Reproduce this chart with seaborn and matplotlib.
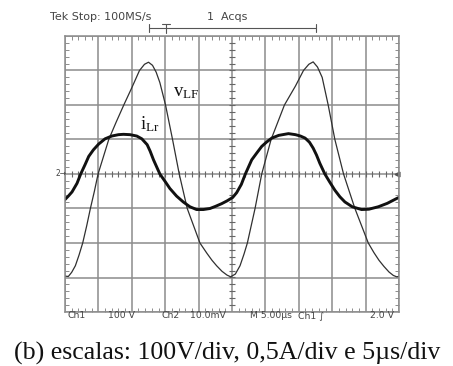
import numpy as np
import pandas as pd
import matplotlib
matplotlib.use("Agg")
import matplotlib.pyplot as plt
from matplotlib.ticker import MultipleLocator
from matplotlib.lines import Line2D
import seaborn as sns

# ---- data (screen divisions: x 0..10, y -4..4) ----
v_lf_x = [0.00, 0.10, 0.20, 0.31, 0.42, 0.53, 0.65, 0.76, 0.88, 0.99, 1.15, 1.31, 1.53, 1.76,
          2.00, 2.23, 2.38, 2.50, 2.62, 2.73, 2.84, 3.01, 3.22, 3.42, 3.66, 3.85, 4.04, 4.25,
          4.40, 4.54, 4.70, 4.85, 4.96, 5.10, 5.24, 5.36, 5.46, 5.69, 5.89, 6.17, 6.57, 6.90,
          7.14, 7.30, 7.43, 7.56, 7.70, 7.88, 8.08, 8.34, 8.68, 9.08, 9.25, 9.40, 9.55, 9.70,
          9.83, 9.93, 10.00]
v_lf_y = [-2.96, -2.97, -2.85, -2.66, -2.35, -2.00, -1.50, -1.00, -0.50, 0.00, 0.50, 1.00, 1.50, 2.00,
          2.50, 3.00, 3.18, 3.24, 3.15, 2.95, 2.65, 2.00, 1.00, 0.00, -1.00, -1.50, -2.00, -2.30,
          -2.50, -2.66, -2.82, -2.93, -2.98, -2.90, -2.66, -2.32, -2.00, -1.00, 0.00, 1.00, 2.00, 2.55,
          3.00, 3.18, 3.25, 3.10, 2.80, 2.00, 1.00, 0.00, -1.00, -2.00, -2.28, -2.50, -2.68, -2.84,
          -2.94, -2.98, -2.97]

i_lr_x = [0.00, 0.10, 0.21, 0.36, 0.47, 0.60, 0.71, 0.85, 1.01, 1.20, 1.40, 1.60, 1.75, 1.95,
          2.15, 2.30, 2.46, 2.55, 2.65, 2.84, 3.00, 3.14, 3.34, 3.54, 3.74, 3.94, 4.14, 4.34,
          4.50, 4.69, 4.85, 5.02, 5.14, 5.28, 5.40, 5.59, 5.75, 5.89, 6.04, 6.19, 6.40, 6.69,
          6.90, 7.05, 7.19, 7.32, 7.43, 7.53, 7.63, 7.78, 7.93, 8.08, 8.23, 8.38, 8.60, 8.88,
          9.10, 9.38, 9.65, 9.93, 10.00]
i_lr_y = [-0.74, -0.64, -0.52, -0.27, 0.00, 0.27, 0.51, 0.70, 0.87, 1.02, 1.10, 1.14, 1.15, 1.14,
          1.10, 1.02, 0.85, 0.66, 0.41, 0.00, -0.22, -0.42, -0.64, -0.81, -0.95, -1.03, -1.03, -1.00,
          -0.94, -0.86, -0.78, -0.68, -0.54, -0.30, 0.00, 0.41, 0.62, 0.80, 0.93, 1.04, 1.12, 1.17,
          1.14, 1.10, 1.04, 0.92, 0.75, 0.55, 0.31, 0.00, -0.24, -0.47, -0.66, -0.81, -0.95, -1.03,
          -1.02, -0.95, -0.85, -0.71, -0.68]

top_texts = ["Tek Stop: 100MS/s", "1  Acqs"]
bottom_texts = ["Ch1", "100 V", "Ch2", "10.0mV", "M 5.00µs", "Ch1 ∫", "2.0 V"]
caption = "(b) escalas: 100V/div, 0,5A/div e 5µs/div"

sns.set_style("white")
plt.rcParams['font.family'] = ['DejaVu Sans']

W, H = 453, 366
fig = plt.figure(figsize=(W / 100, H / 100), dpi=100)
ax = fig.add_axes([65 / W, 1 - 312 / H, 334 / W, 276 / H])

grid_c = "#8c8c8c"
df_v = pd.DataFrame({"x": v_lf_x, "y": v_lf_y})
df_i = pd.DataFrame({"x": i_lr_x, "y": i_lr_y})

ax.set_xlim(0, 10)
ax.set_ylim(-4, 4)
ax.xaxis.set_major_locator(MultipleLocator(1))
ax.yaxis.set_major_locator(MultipleLocator(1))
ax.xaxis.set_minor_locator(MultipleLocator(0.2))
ax.yaxis.set_minor_locator(MultipleLocator(0.2))
ax.grid(True, which="major", color=grid_c, lw=1.1)
ax.set_axisbelow(True)
ax.tick_params(which="major", length=0, labelbottom=False, labelleft=False)
ax.tick_params(which="minor", direction="in", length=3, width=0.7, color=grid_c,
               top=True, right=True, bottom=True, left=True)
for s in ax.spines.values():
    s.set_color(grid_c)
    s.set_linewidth(1.1)

# center cross ticks
tk = np.arange(0.2, 10, 0.2)
ax.plot(tk, np.zeros_like(tk), ls="none", marker="|", ms=5, mew=0.8, color="#666666")
tky = np.arange(-3.8, 4, 0.2)
ax.plot(np.full_like(tky, 5.0), tky, ls="none", marker="_", ms=5, mew=0.8, color="#666666")

sns.lineplot(data=df_v, x="x", y="y", sort=False, ax=ax, color="#303030", lw=0.9)
sns.lineplot(data=df_i, x="x", y="y", sort=False, ax=ax, color="#111111", lw=2.1)
ax.set_xlabel("")
ax.set_ylabel("")

# trace labels
ax.text(3.22, 2.37, r"$\mathregular{v_{LF}}$", family="Liberation Serif", fontsize=13.5,
        ha="left", va="center", color="#111111")
ax.text(2.25, 1.45, r"$\mathregular{i_{Lr}}$", family="Liberation Serif", fontsize=13.5,
        ha="left", va="center", color="#111111")

# ground marker & trigger marker
fig.text(55 / W, 1 - 174 / H, "2→", fontsize=5.5, color="#444444", va="center", ha="left")
ax.plot([9.95], [0], marker="<", ms=3.5, color="#555555", clip_on=False)

# header
fig.text(50 / W, 1 - 17 / H, top_texts[0], fontsize=8, color="#444444", va="center")
fig.text(207 / W, 1 - 17 / H, top_texts[1], fontsize=8, color="#444444", va="center")
yb = 1 - 28 / H
fig.add_artist(Line2D([149 / W, 316 / W], [yb, yb], color="#555555", lw=0.8))
for xx in (149, 316):
    fig.add_artist(Line2D([xx / W, xx / W], [yb - 4 / H, yb + 4 / H], color="#555555", lw=0.8))
fig.add_artist(Line2D([166 / W, 166 / W], [yb - 5 / H, yb + 4 / H], color="#555555", lw=0.8))
fig.add_artist(Line2D([162 / W, 170 / W], [yb + 4 / H, yb + 4 / H], color="#555555", lw=0.8))

# footer scope labels
bx = [68, 108, 162, 190, 250, 298, 370]
for t, xx in zip(bottom_texts, bx):
    fig.text(xx / W, 1 - 315.5 / H, t, fontsize=6.7, color="#444444", va="center", ha="left")

fig.text(227.5 / W, 1 - 353 / H, caption, family="Liberation Serif", fontsize=18.6,
         ha="center", va="center", color="#111111")

fig.savefig("out.png", dpi=100)
